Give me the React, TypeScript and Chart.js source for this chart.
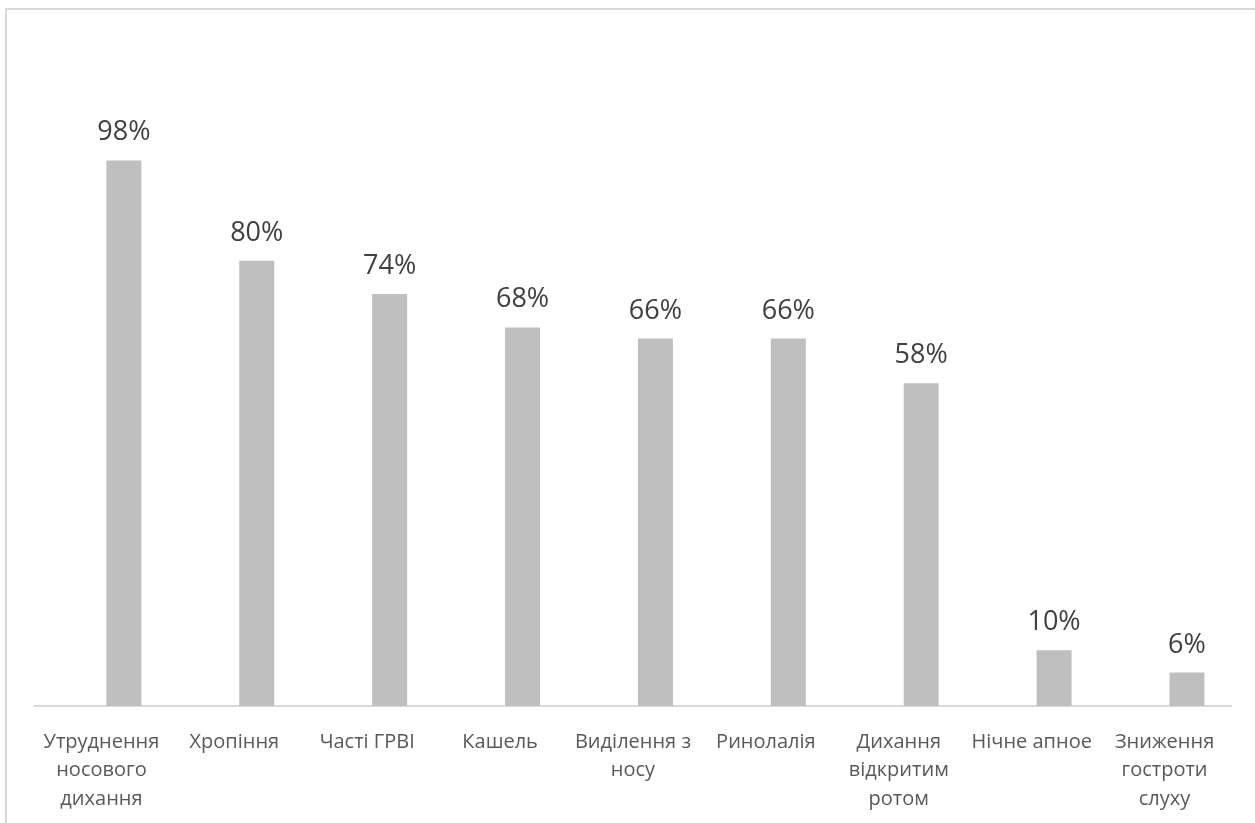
import React, { useEffect, useRef } from "react";
import { Chart, registerables } from "chart.js";

Chart.register(...registerables);

const categories: (string | string[])[] = [
  ["Утруднення", "носового", "дихання"],
  "Хропіння",
  "Часті ГРВІ",
  "Кашель",
  ["Виділення з", "носу"],
  "Ринолалія",
  ["Дихання", "відкритим", "ротом"],
  "Нічне апное",
  ["Зниження", "гостроти", "слуху"],
];

const values: number[] = [0.98, 0.8, 0.74, 0.68, 0.66, 0.66, 0.58, 0.1, 0.06];
const emptySeries: (number | null)[] = categories.map(() => null);

const FONT = "'Open Sans', 'Noto Sans', sans-serif";

const labelPlugin = {
  id: "valueLabels",
  afterDatasetsDraw(chart: any) {
    const ctx = chart.ctx;
    const meta = chart.getDatasetMeta(1);
    ctx.save();
    ctx.font = `27px ${FONT}`;
    ctx.fillStyle = "#404040";
    ctx.textAlign = "center";
    ctx.textBaseline = "alphabetic";
    meta.data.forEach((bar: any, i: number) => {
      const v = values[i];
      ctx.fillText(Math.round(v * 100) + "%", bar.x, bar.y - 20);
    });
    ctx.restore();
  },
};

export default function App() {
  const ref = useRef<HTMLCanvasElement>(null);
  useEffect(() => {
    if (!ref.current) return;
    const chart = new Chart(ref.current, {
      type: "bar",
      data: {
        labels: categories,
        datasets: [
          { data: emptySeries, backgroundColor: "#bfbfbf" },
          { data: values, backgroundColor: "#bfbfbf", borderWidth: 0 },
        ],
      },
      options: {
        animation: false,
        responsive: false,
        devicePixelRatio: 1,
        layout: { padding: { left: 35, right: 24, top: 38, bottom: 0 } },
        plugins: { legend: { display: false }, tooltip: { enabled: false } },
        datasets: {
          bar: { categoryPercentage: 0.675, barPercentage: 0.78 },
        },
        scales: {
          x: {
            grid: { display: false, drawTicks: false },
            border: { display: true, color: "#d9d9d9", width: 2 },
            ticks: {
              color: "#595959",
              font: { family: FONT, size: 20, lineHeight: 1.42 },
              padding: 22,
              maxRotation: 0,
              minRotation: 0,
              autoSkip: false,
            },
            afterFit: (scale: any) => {
              scale.height = 117;
            },
          },
          y: {
            display: false,
            min: 0,
            max: 1.2,
          },
        },
      },
      plugins: [labelPlugin],
    });
    return () => chart.destroy();
  }, []);

  return (
    <div
      style={{
        position: "fixed",
        left: 0,
        top: 0,
        width: 1255,
        height: 823,
        overflow: "hidden",
        background: "#ffffff",
      }}
    >
      <div
        style={{
          position: "absolute",
          left: 5,
          top: 8,
          width: 1400,
          height: 1000,
          border: "2px solid #d9d9d9",
          boxSizing: "border-box",
        }}
      />
      <canvas
        ref={ref}
        width={1255}
        height={823}
        style={{ position: "absolute", left: 0, top: 0, width: 1255, height: 823 }}
      />
    </div>
  );
}
